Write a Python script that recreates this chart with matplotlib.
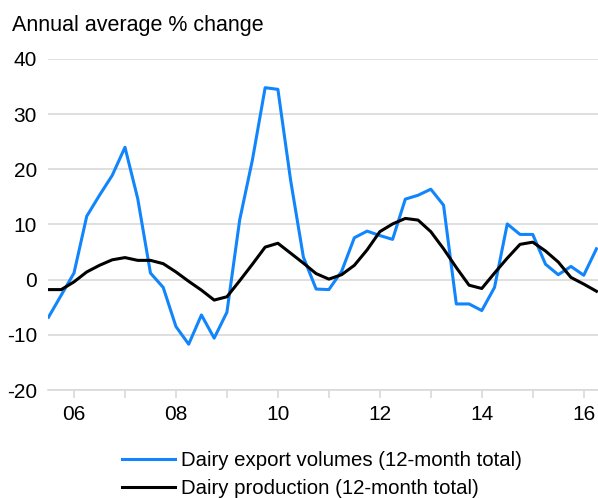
import numpy as np
import matplotlib
matplotlib.use('Agg')
import matplotlib.pyplot as plt

plt.rcParams.update({'font.family': ['Liberation Sans', 'DejaVu Sans'],
                     'axes.unicode_minus': False})

# quarterly points, mid-2005 to 2016Q1
start_year = 2005.5
exports = [-6.8, -2.8, 1.2, 11.5, 15.3, 18.9, 24.0, 14.7, 1.2, -1.4,
           -8.5, -11.7, -6.4, -10.6, -5.9, 10.8, 21.7, 34.8, 34.5, 18.0,
           4.1, -1.7, -1.8, 1.5, 7.6, 8.8, 8.0, 7.3, 14.6, 15.3,
           16.4, 13.5, -4.4, -4.4, -5.6, -1.4, 10.1, 8.2, 8.2, 2.8,
           0.9, 2.4, 0.8, 5.6]
production = [-1.8, -1.8, -0.4, 1.4, 2.6, 3.6, 4.0, 3.5, 3.5, 2.9,
              1.4, -0.3, -1.9, -3.7, -3.1, -0.2, 2.8, 5.9, 6.6, 4.8,
              3.0, 1.1, 0.1, 0.9, 2.6, 5.4, 8.7, 10.1, 11.1, 10.8,
              8.7, 5.6, 2.2, -1.0, -1.6, 1.2, 3.9, 6.4, 6.8, 5.2,
              3.2, 0.4, -0.8, -2.1]
year_ticks = list(range(2006, 2017))
year_labels = ['06', '', '08', '', '10', '', '12', '', '14', '', '16']
y_ticks = [-20, -10, 0, 10, 20, 30, 40]

x = start_year + 0.25 * np.arange(len(exports))

fig = plt.figure(figsize=(5.98, 4.98), dpi=100)
ax = fig.add_axes([48 / 598, 1 - 390 / 498, 1 - 48 / 598, (390 - 59) / 498])

grid_c = '#d9d9d9'
ax.plot(x, exports, color='#1185fb', lw=2.2, label='Dairy export volumes (12-month total)', zorder=3)
ax.plot(x, production, color='black', lw=2.2, label='Dairy production (12-month total)', zorder=4)

ax.set_xlim(2005.49, 2016.28)
ax.set_ylim(-20, 40)
ax.set_yticks(y_ticks)
ax.set_xticks(year_ticks)
ax.set_xticklabels(year_labels)
ax.yaxis.grid(True, color=grid_c, lw=1.2)
ax.set_axisbelow(True)
for s in ['left', 'right', 'top']:
    ax.spines[s].set_visible(False)
ax.spines['bottom'].set_color(grid_c)
ax.spines['bottom'].set_linewidth(1.2)
ax.tick_params(axis='y', length=0, pad=8, labelsize=15)
ax.tick_params(axis='x', length=6, width=1.2, color=grid_c, pad=5, labelsize=15)

fig.text(12 / 598, 1 - 25 / 498, 'Annual average % change', fontsize=15.5,
         ha='left', va='center')

fig.legend(loc='upper left', bbox_to_anchor=(122 / 598, 1 - 451 / 498),
           frameon=False, fontsize=14.7, handlelength=2.6, handletextpad=0.3,
           labelspacing=0.45, borderaxespad=0, borderpad=0)

fig.savefig('out.png', dpi=100)
